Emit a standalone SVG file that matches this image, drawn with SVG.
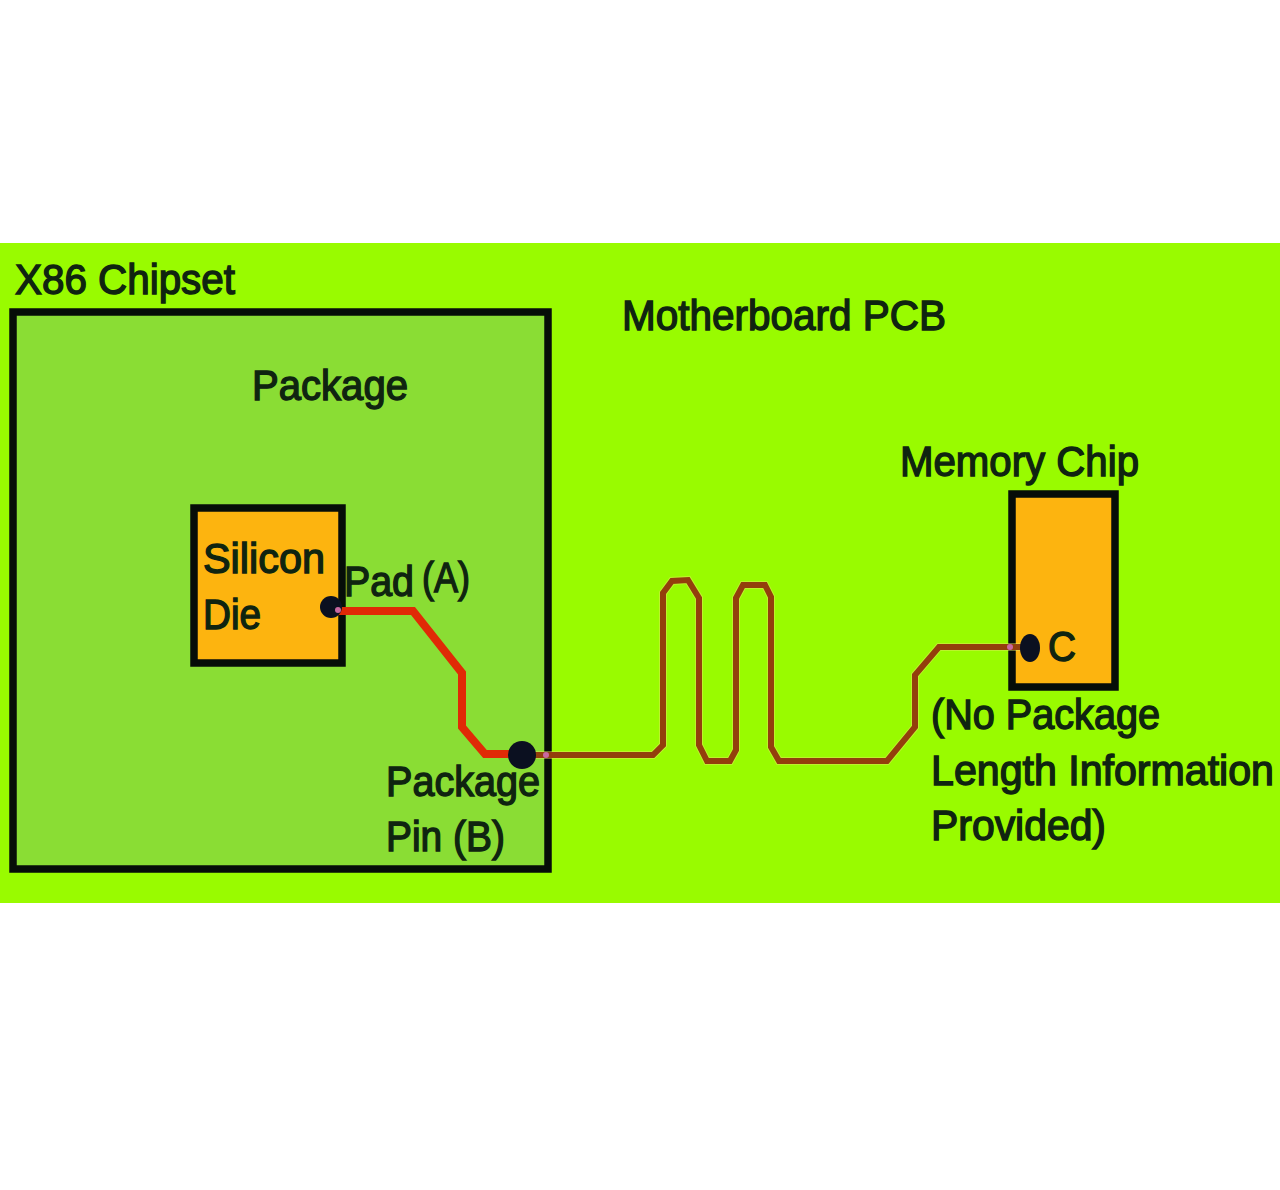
<svg xmlns="http://www.w3.org/2000/svg" width="1280" height="1190" viewBox="0 0 1280 1190">
<style>
text{font-family:"Liberation Sans",Arial,sans-serif;font-size:42px;fill:#0f2410;stroke:#0f2410;stroke-width:1.4px}
.box{stroke:#060d08;stroke-width:7.5}
.dot{fill:#0b1020}
.halo{stroke:#e8e860;stroke-width:8;opacity:.45}
.brown{stroke:#933f0c;stroke-width:6}
.pink{fill:#c868a0}
</style>
<defs>
<path id="trace" d="M522 755H653L663 745V593L672 581L688 580L699 598V745L707 761H730L736 750V598L743 585H765L771 597V747L779 761H887L915 727V675L939 647H1030"/>
</defs>
<rect width="1280" height="1190" fill="#fff"/>
<rect id="pcb" y="243" width="1280" height="660" fill="#99fb00"/>
<g id="package"><rect class="box" x="13" y="312" width="535" height="557" fill="#8add34"/></g>
<g id="die"><rect class="box" x="194" y="508" width="148" height="155" fill="#fdb40f"/></g>
<g id="memory"><rect class="box" x="1012" y="494" width="103" height="193" fill="#fdb40f"/></g>
<g id="connectors" fill="none" stroke-linejoin="miter">
<use href="#trace" class="halo"/>
<use href="#trace" class="brown"/>
<path d="M334 611H413L462 673V727L485 754H522" stroke="#e02a06" stroke-width="8"/>
</g>
<g id="pads">
<circle class="dot" cx="331" cy="607" r="11"/>
<circle class="dot" cx="522" cy="755" r="14"/>
<ellipse class="dot" cx="1030" cy="648" rx="10" ry="14"/>
<circle class="pink" cx="338" cy="610" r="3"/>
<circle class="pink" cx="546" cy="755" r="3"/>
<circle class="pink" cx="1010" cy="647" r="3"/>
</g>
<g id="labels">
<text x="15" y="294" textLength="220" lengthAdjust="spacingAndGlyphs">X86 Chipset</text>
<text x="622" y="330" textLength="324" lengthAdjust="spacingAndGlyphs">Motherboard PCB</text>
<text x="252" y="400" textLength="156" lengthAdjust="spacingAndGlyphs">Package</text>
<text x="900" y="476" textLength="239" lengthAdjust="spacingAndGlyphs">Memory Chip</text>
<text x="203" y="573" textLength="122" lengthAdjust="spacingAndGlyphs">Silicon</text>
<text x="203" y="629" textLength="58" lengthAdjust="spacingAndGlyphs">Die</text>
<text x="344" y="596" textLength="70" lengthAdjust="spacingAndGlyphs">Pad</text>
<text x="422" y="592" textLength="48" lengthAdjust="spacingAndGlyphs">(A)</text>
<text x="386" y="796" textLength="154" lengthAdjust="spacingAndGlyphs">Package</text>
<text x="386" y="851" textLength="119" lengthAdjust="spacingAndGlyphs">Pin (B)</text>
<text x="1048" y="661" textLength="28" lengthAdjust="spacingAndGlyphs">C</text>
<text x="931" y="729" textLength="229" lengthAdjust="spacingAndGlyphs">(No Package</text>
<text x="931" y="785" textLength="343" lengthAdjust="spacingAndGlyphs">Length Information</text>
<text x="931" y="840" textLength="175" lengthAdjust="spacingAndGlyphs">Provided)</text>
</g>
</svg>
